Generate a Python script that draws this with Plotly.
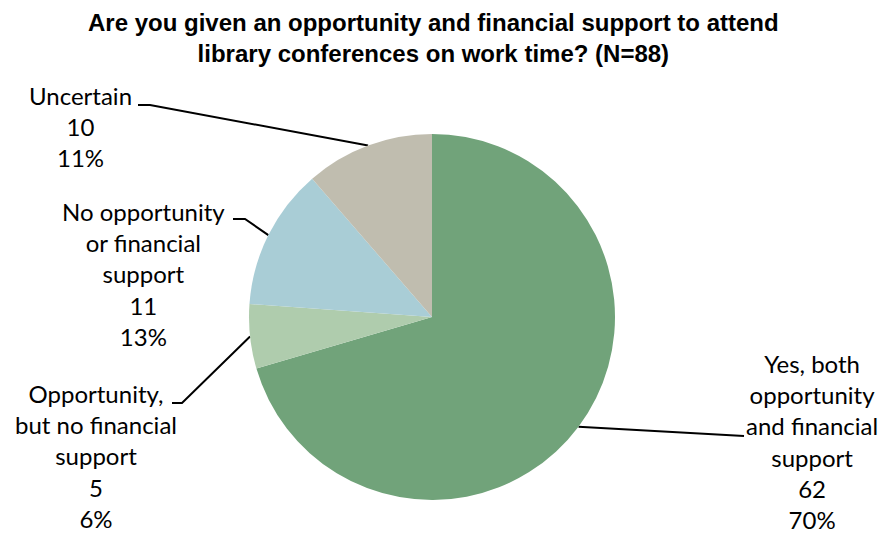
import math
import plotly.graph_objects as go

# Survey responses (N=88)
categories = [
    "Yes, both opportunity and financial support",
    "Opportunity, but no financial support",
    "No opportunity or financial support",
    "Uncertain",
]
label_lines = [
    ["Yes, both", "opportunity", "and financial", "support"],
    ["Opportunity,", "but no financial", "support"],
    ["No opportunity", "or financial", "support"],
    ["Uncertain"],
]
counts = [62, 5, 11, 10]
colors = ["#71A37A", "#AFCCAD", "#A9CDD6", "#C0BDAF"]

W, H = 883, 538
# pie geometry in pixels
cx, cy, r = 432, 317, 183

# label block placement (center x, center y) and leader line ends near the text
label_pos = [(812, 445), (96, 460), (143, 278), (80, 130)]
leader_text_end = [(744, 436), (172, 403), (233, 219), (138, 105)]
leader_elbow = [(738, 436), (182, 403), (245, 219), (150, 105)]

total = sum(counts)

fig = go.Figure()

fig.add_trace(go.Pie(
    labels=categories,
    values=counts,
    marker=dict(colors=colors, line=dict(width=0)),
    sort=False,
    direction="clockwise",
    rotation=0,
    textinfo="none",
    hoverinfo="label+value+percent",
    showlegend=False,
    domain=dict(
        x=[(cx - r) / W, (cx + r) / W],
        y=[(H - cy - r) / H, (H - cy + r) / H],
    ),
))

# leader lines from slice midpoints to the labels
cum = 0
for i, v in enumerate(counts):
    mid = (cum + v / 2) / total * 2 * math.pi
    cum += v
    px = cx + r * math.sin(mid)
    py = cy - r * math.cos(mid)
    ex, ey = leader_elbow[i]
    tx, ty = leader_text_end[i]
    fig.add_trace(go.Scatter(
        x=[px, ex, tx], y=[py, ey, ty],
        mode="lines",
        line=dict(color="black", width=2),
        hoverinfo="skip",
        showlegend=False,
        xaxis="x", yaxis="y",
    ))

    # percentages rounded half up
    pct = math.floor(v / total * 100 + 0.5)
    text = "<br>".join(label_lines[i] + [str(v), f"{pct}%"])
    lx, ly = label_pos[i]
    fig.add_annotation(
        x=lx, y=ly - 4, xref="x", yref="y",
        text=text, showarrow=False,
        xanchor="center", yanchor="middle", align="center",
        font=dict(family="Lato", size=24, color="black"),
    )

# chart title
fig.add_annotation(
    x=433, y=38, xref="x", yref="y",
    text="Are you given an opportunity and financial support to attend<br>"
         "library conferences on work time? (N=88)",
    showarrow=False, xanchor="center", yanchor="middle", align="center",
    font=dict(family="Liberation Sans Narrow, Arial Narrow, Liberation Sans", size=24,
              color="black", weight="bold"),
)

fig.update_layout(
    width=W, height=H,
    margin=dict(l=0, r=0, t=0, b=0),
    paper_bgcolor="white",
    plot_bgcolor="rgba(0,0,0,0)",
    xaxis=dict(range=[0, W], visible=False, domain=[0, 1], fixedrange=True),
    yaxis=dict(range=[H, 0], visible=False, domain=[0, 1], fixedrange=True),
)

fig.write_html("out.html")
